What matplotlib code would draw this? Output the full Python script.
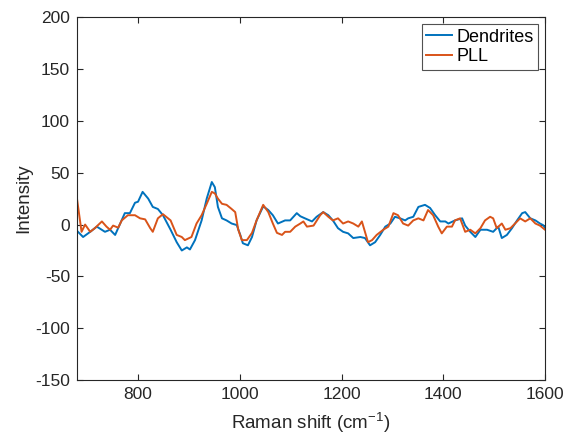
import matplotlib
matplotlib.use("Agg")
import matplotlib.pyplot as plt

plt.rcParams['font.family'] = ['Liberation Sans', 'DejaVu Sans']
plt.rcParams['mathtext.fontset'] = 'custom'
plt.rcParams['mathtext.rm'] = 'Liberation Sans'
plt.rcParams['mathtext.it'] = 'Liberation Sans:italic'
plt.rcParams['axes.unicode_minus'] = False

# Dendrites spectrum (Raman shift, intensity)
dendrites_x = [680, 682, 692, 706, 719, 735, 745, 755, 765, 774, 784, 794, 800, 809, 820, 829, 839,
               849, 864, 876, 886, 896, 902, 912, 925, 935, 945, 951, 957, 965, 974, 984, 994,
               1001, 1006, 1016, 1024, 1033, 1046, 1056, 1065, 1075, 1089, 1099, 1112, 1119, 1128,
               1142, 1151, 1164, 1174, 1183, 1193, 1203, 1213, 1223, 1237, 1246, 1256, 1266, 1276,
               1286, 1296, 1305, 1315, 1325, 1331, 1341, 1351, 1364, 1374, 1384, 1394, 1404, 1410,
               1423, 1437, 1443, 1453, 1463, 1473, 1486, 1498, 1508, 1515, 1525, 1535, 1545, 1555,
               1561, 1571, 1581, 1590, 1596, 1600]
dendrites_y = [-6, -7, -12, -7, -2, -7, -5, -10, 1, 11, 11, 21, 22, 31.5, 25, 17, 15,
               9, -5, -17, -25, -22, -24, -15, 4, 25, 41, 36, 17, 6, 4, 1, -0.5,
               -10, -18, -20, -12, 4, 17.5, 14, 9, 1, 4, 4, 11, 8, 6,
               3, 7.5, 12, 9, 4, -3.5, -7, -8.5, -13, -12, -13, -20, -17, -10,
               -2, 1, 7.5, 6, 4, 6, 7.5, 17, 19, 16, 9, 3, 3, 1,
               4, 6, -1, -7, -12, -5, -5, -7, -2, -13, -10, -3.5, 4, 11,
               12, 6, 4, 1, -0.5, -3]

# PLL spectrum
pll_x = [680, 689, 696, 706, 715, 729, 738, 745, 751, 761, 768, 780, 794, 804, 814, 824, 829,
         839, 849, 864, 876, 886, 892, 905, 915, 925, 935, 945, 951, 957, 965, 974, 984,
         991, 997, 1004, 1014, 1024, 1033, 1046, 1056, 1065, 1073, 1083, 1089, 1099, 1109,
         1119, 1125, 1132, 1145, 1158, 1164, 1174, 1183, 1193, 1203, 1213, 1223, 1233, 1240,
         1246, 1252, 1260, 1269, 1282, 1292, 1302, 1311, 1321, 1331, 1341, 1351, 1361, 1370,
         1380, 1390, 1397, 1407, 1417, 1423, 1433, 1443, 1453, 1463, 1473, 1482, 1492, 1498,
         1505, 1515, 1522, 1532, 1541, 1551, 1561, 1571, 1581, 1590, 1600]
pll_y = [25, -7, 0, -7, -3.5, 3, -2, -5, -1, -3, 4, 9, 9, 6, 5, -3.5, -7,
         6, 10, 4, -10, -12, -15, -12, 1, 9, 20, 31.5, 30, 25, 20, 19, 15,
         12, -5, -15, -15, -8, 4, 19, 12, 1, -8, -10, -7, -7, -2,
         1, 3, -2, -1, 9, 12, 7.5, 4, 6, 1, 3, 1, -2, 3,
         -7, -17, -15, -10, -5, -2, 11, 9, 1, -1, 4, 6, 4, 14,
         9, -2, -8.5, -2, -2, 4, 6, -7, -5, -8.5, -3.5, 4, 7.5, 6,
         -3.5, 1, -5, -3.5, 1, 6, 3, 6, 1, -1, -5]

fig = plt.figure(figsize=(5.66, 4.37), dpi=100)
ax = fig.add_axes([0.136, 0.130, 0.827, 0.831])
ax.plot(dendrites_x, dendrites_y, color='#0072BD', lw=1.4, label='Dendrites')
ax.plot(pll_x, pll_y, color='#D95319', lw=1.4, label='PLL')

ax.set_xlim(680, 1600)
ax.set_ylim(-150, 200)
ax.set_xticks([800, 1000, 1200, 1400, 1600])
ax.set_yticks(range(-150, 201, 50))
ax.tick_params(direction='in', top=True, right=True, labelsize=12.5, colors='#262626',
               length=4.5, pad=5)
for s in ax.spines.values():
    s.set_color('#262626')
    s.set_linewidth(0.8)
ax.set_xlabel('Raman shift (cm$^{-1}$)', fontsize=13.5, color='#262626', labelpad=6)
ax.set_ylabel('Intensity', fontsize=13.5, color='#262626', labelpad=2)
leg = ax.legend(loc='upper right', fontsize=13, fancybox=False, edgecolor='#262626',
                handlelength=1.4, handletextpad=0.25, borderpad=0.25, labelspacing=0.15,
                borderaxespad=0.4)
leg.get_frame().set_linewidth(0.8)

fig.savefig('out.png', dpi=100)
